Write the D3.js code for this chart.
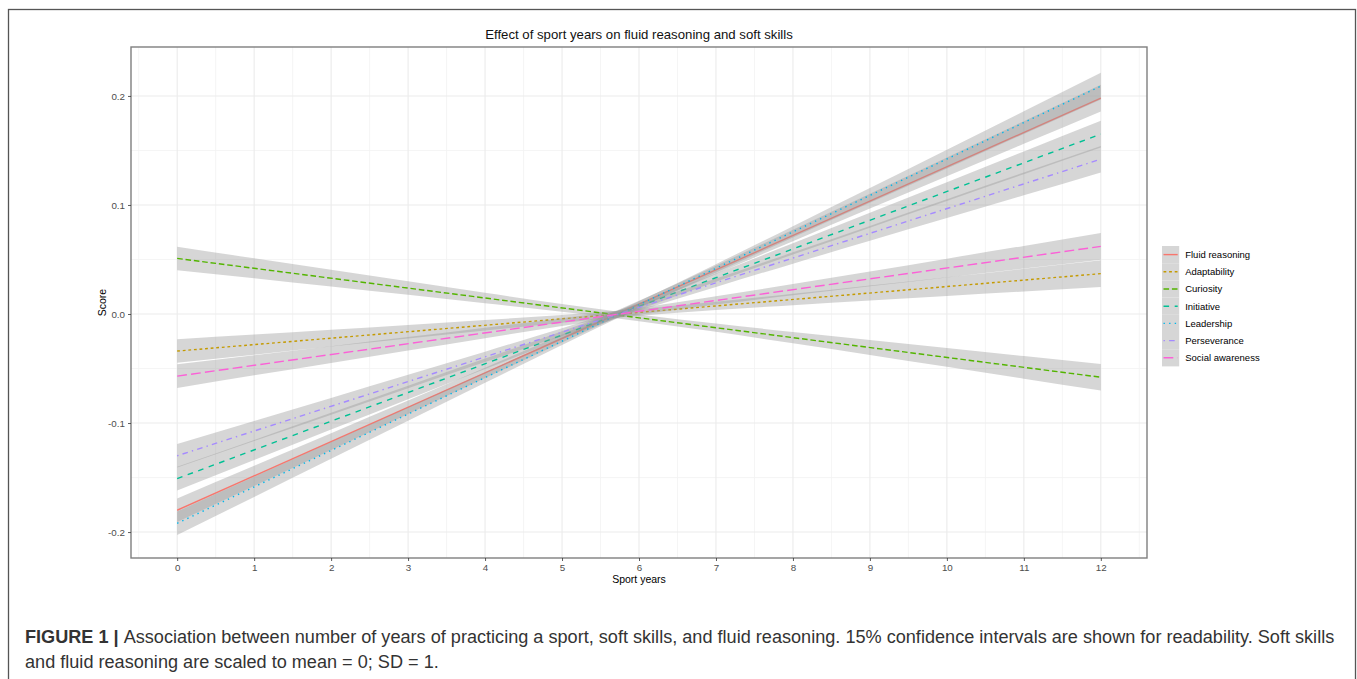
<!DOCTYPE html>
<html>
<head>
<meta charset="UTF-8">
<style>
  body { margin: 0; background: #fff; }
  svg { display: block; font-family: 'Liberation Sans', Arial, sans-serif; }
  .tick-label { font-size: 9.8px; fill: #4d4d4d; }
  .axis-title { font-size: 10.5px; fill: #000; }
  .legend-label { font-size: 9.5px; fill: #000; }
</style>
</head>
<body>
<script src="https://d3js.org/d3.v7.min.js"></script>
<svg id="chart" width="1357" height="679"></svg>
<script>
  // series (fitted value at 0 and 12 sport years)
  let seriesNames = ["Fluid reasoning", "Adaptability", "Curiosity", "Initiative", "Leadership", "Perseverance", "Social awareness"];
  let scoreAt0  = [-0.180, -0.034,  0.051, -0.151, -0.192, -0.130, -0.057];
  let scoreAt12 = [ 0.198,  0.037, -0.058,  0.165,  0.209,  0.142,  0.062];
  let colors = ["#F8766D", "#C49A00", "#53B400", "#00C094", "#00B6EB", "#A58AFF", "#FB61D7"];
  // ggplot linetypes: solid, 22, 42, 44, 13, 1343, 73
  let linetypes = ["", "22", "42", "44", "13", "1343", "73"];

  // half width of the confidence band along x
  let bandX    = [0, 1, 2, 3, 4, 5, 6, 7, 8, 9, 10, 11, 12];
  let bandHalf = [0.0108, 0.0092, 0.0077, 0.0062, 0.0048, 0.0036, 0.0031, 0.0038, 0.0052, 0.0068, 0.0086, 0.0104, 0.0122];

  let xTicks = d3.range(0, 13);
  let yTicks = [-0.2, -0.1, 0, 0.1, 0.2];

  let svg = d3.select("#chart");

  // figure frame
  svg.append("rect")
    .attr("x", 8.5).attr("y", 9.5)
    .attr("width", 1347).attr("height", 720)
    .attr("fill", "none").attr("stroke", "#555").attr("stroke-width", 1.3);

  let panel = {left: 131, top: 47, right: 1147, bottom: 558};

  let x = d3.scaleLinear().domain([-0.6, 12.6]).range([panel.left, panel.right]);
  let y = d3.scaleLinear().domain([-0.2238, 0.2449]).range([panel.bottom, panel.top]);

  // grid
  let grid = svg.append("g");
  let minorX = d3.range(-0.5, 12.6, 1);
  let minorY = [-0.15, -0.05, 0.05, 0.15];
  grid.selectAll(".mx").data(minorX).enter().append("line")
    .attr("x1", d => x(d)).attr("x2", d => x(d))
    .attr("y1", panel.top).attr("y2", panel.bottom)
    .attr("stroke", "#f2f2f2").attr("stroke-width", 0.8);
  grid.selectAll(".my").data(minorY).enter().append("line")
    .attr("y1", d => y(d)).attr("y2", d => y(d))
    .attr("x1", panel.left).attr("x2", panel.right)
    .attr("stroke", "#f2f2f2").attr("stroke-width", 0.8);
  grid.selectAll(".gx").data(xTicks).enter().append("line")
    .attr("x1", d => x(d)).attr("x2", d => x(d))
    .attr("y1", panel.top).attr("y2", panel.bottom)
    .attr("stroke", "#ebebeb").attr("stroke-width", 1.1);
  grid.selectAll(".gy").data(yTicks).enter().append("line")
    .attr("y1", d => y(d)).attr("y2", d => y(d))
    .attr("x1", panel.left).attr("x2", panel.right)
    .attr("stroke", "#ebebeb").attr("stroke-width", 1.1);

  // ribbons + lines, group by group like geom_smooth
  let area = d3.area()
    .x(d => x(d.x)).y0(d => y(d.lo)).y1(d => y(d.hi))
    .curve(d3.curveMonotoneX);
  let line = d3.line().x(d => x(d.x)).y(d => y(d.y));
  let lw = 1.4;
  let dashOf = i => linetypes[i] ? linetypes[i].split("").map(c => +c * lw).join(",") : null;

  let layers = svg.append("g");
  seriesNames.forEach((name, i) => {
    let fit = xx => scoreAt0[i] + (scoreAt12[i] - scoreAt0[i]) * xx / 12;
    let band = bandX.map((bx, j) => ({x: bx, lo: fit(bx) - bandHalf[j], hi: fit(bx) + bandHalf[j]}));
    layers.append("path")
      .attr("d", area(band))
      .attr("fill", "#999999").attr("fill-opacity", 0.4);
    layers.append("path")
      .attr("d", line([{x: 0, y: scoreAt0[i]}, {x: 12, y: scoreAt12[i]}]))
      .attr("fill", "none")
      .attr("stroke", colors[i])
      .attr("stroke-width", lw)
      .attr("stroke-dasharray", dashOf(i));
  });

  // panel border
  svg.append("rect")
    .attr("x", panel.left).attr("y", panel.top)
    .attr("width", panel.right - panel.left).attr("height", panel.bottom - panel.top)
    .attr("fill", "none").attr("stroke", "#7f7f7f").attr("stroke-width", 1.4);

  // axes
  let xAxis = svg.append("g")
    .attr("transform", "translate(0," + panel.bottom + ")")
    .call(d3.axisBottom(x).tickValues(xTicks).tickSize(3).tickPadding(3).tickFormat(d3.format("d")));
  let yAxis = svg.append("g")
    .attr("transform", "translate(" + panel.left + ",0)")
    .call(d3.axisLeft(y).tickValues(yTicks).tickSize(3).tickPadding(3).tickFormat(d3.format(".1f")));
  [xAxis, yAxis].forEach(a => {
    a.attr("font-family", null).attr("font-size", null);
    a.select(".domain").remove();
    a.selectAll(".tick line").attr("stroke", "#333").attr("stroke-width", 0.8);
    a.selectAll(".tick text").attr("class", "tick-label").attr("fill", null);
  });
  yAxis.selectAll(".tick text").text(d => d === 0 ? "0.0" : d3.format(".1f")(d).replace("−", "-"));

  svg.append("text").attr("class", "axis-title")
    .attr("x", (panel.left + panel.right) / 2).attr("y", 583)
    .attr("text-anchor", "middle").text("Sport years");
  svg.append("text").attr("class", "axis-title")
    .attr("transform", "translate(106," + ((panel.top + panel.bottom) / 2) + ") rotate(-90)")
    .attr("text-anchor", "middle").text("Score");

  svg.append("text")
    .attr("x", (panel.left + panel.right) / 2).attr("y", 39)
    .attr("text-anchor", "middle")
    .style("font-size", "13.2px").style("fill", "#111")
    .text("Effect of sport years on fluid reasoning and soft skills");

  // legend
  let key = 17.2, legX = 1162, legY = 246;
  let legend = svg.append("g");
  seriesNames.forEach((name, i) => {
    let ky = legY + i * key;
    legend.append("rect")
      .attr("x", legX).attr("y", ky).attr("width", key).attr("height", key)
      .attr("fill", "#d6d6d6");
    legend.append("line")
      .attr("x1", legX + 1.5).attr("x2", legX + key - 1.5)
      .attr("y1", ky + key / 2).attr("y2", ky + key / 2)
      .attr("stroke", colors[i]).attr("stroke-width", lw)
      .attr("stroke-dasharray", dashOf(i));
    legend.append("text").attr("class", "legend-label")
      .attr("x", legX + key + 6).attr("y", ky + key / 2 + 3.4)
      .text(name);
  });

  // caption, sized so the first line spans the width it has in the figure
  let cap = svg.append("g").style("font-size", "18px").style("fill", "#333");
  let l1 = cap.append("text").attr("x", 25).attr("y", 643);
  l1.append("tspan").style("font-weight", "bold").text("FIGURE 1 | ");
  l1.append("tspan").text("Association between number of years of practicing a sport, soft skills, and fluid reasoning. 15% confidence intervals are shown for readability. Soft skills");
  let l2 = cap.append("text").attr("x", 25).attr("y", 668)
    .text("and fluid reasoning are scaled to mean = 0; SD = 1.");
  let len = l1.node().getComputedTextLength();
  cap.style("font-size", (18 * 1310 / len).toFixed(2) + "px");
</script>
</body>
</html>
